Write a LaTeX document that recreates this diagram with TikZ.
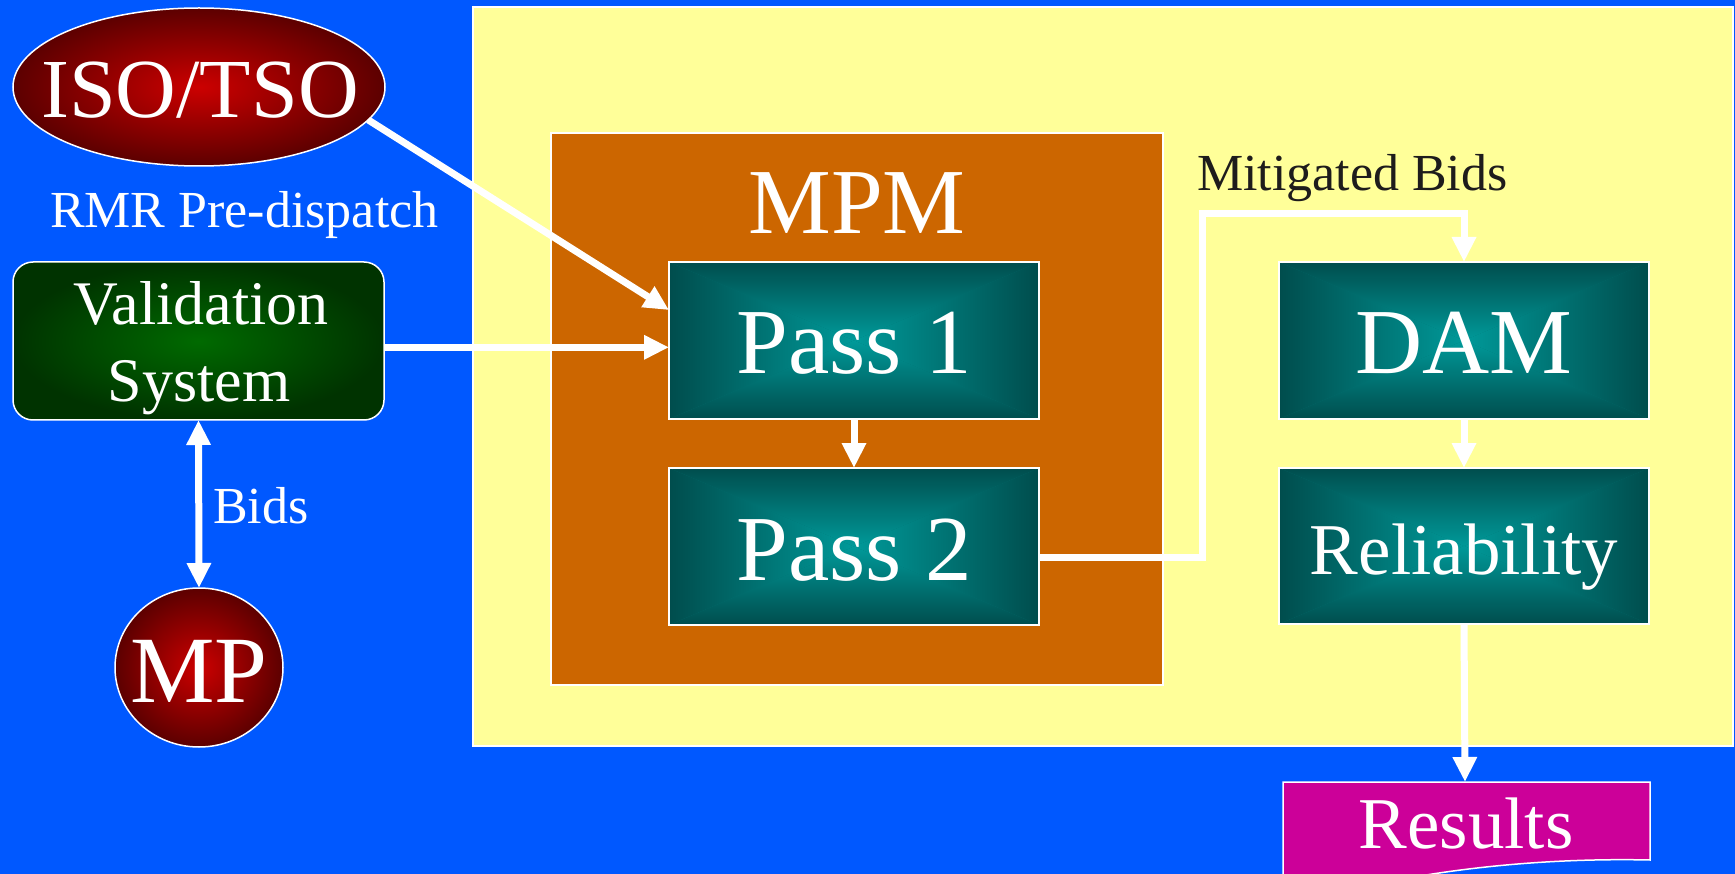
\documentclass[tikz,border=0pt]{standalone}
\usepackage{fontspec}
\setmainfont{Liberation Serif}
\usetikzlibrary{arrows.meta,shapes.geometric,calc}
\definecolor{bgblue}{RGB}{0,88,255}
\definecolor{yel}{RGB}{255,255,153}
\definecolor{org}{RGB}{204,102,0}
\definecolor{redc}{RGB}{204,0,0}
\definecolor{rede}{RGB}{92,0,0}
\definecolor{grnc}{RGB}{0,106,0}
\definecolor{grne}{RGB}{0,51,0}
\definecolor{tealc}{RGB}{0,153,153}
\definecolor{teale}{RGB}{0,77,77}
\definecolor{tealmid}{RGB}{0,115,115}
\definecolor{mag}{RGB}{204,0,153}
\definecolor{txtdark}{RGB}{30,28,28}
\newcommand\fISO{\fontsize{84pt}{84pt}\selectfont}
\newcommand\fMP{\fontsize{95pt}{95pt}\selectfont}
\newcommand\fBig{\fontsize{93pt}{93pt}\selectfont}
\newcommand\fMid{\fontsize{73pt}{73pt}\selectfont}
\newcommand\fVal{\fontsize{62pt}{77pt}\selectfont}
\newcommand\fSmall{\fontsize{52pt}{52pt}\selectfont}
\newcommand\tealshade[4]{%
  \pgfmathsetmacro\tsx{(#1+#3)/2}%
  \pgfmathsetmacro\tsy{(#2+#4)/2}%
  \fill[tealmid] (#1,#2) rectangle (#3,#4);
  \shade[left color=teale,right color=tealc] (#1,#2) -- (\tsx,\tsy) -- (#1,#4) -- cycle;
  \shade[left color=tealc,right color=teale] (#3,#2) -- (\tsx,\tsy) -- (#3,#4) -- cycle;
  \shade[top color=teale,bottom color=tealc] (#1,#2) -- (\tsx,\tsy) -- (#3,#2) -- cycle;
  \shade[top color=tealc,bottom color=teale] (#1,#4) -- (\tsx,\tsy) -- (#3,#4) -- cycle;
}
\begin{document}
\begin{tikzpicture}[x=1pt,y=-1pt,
  every node/.style={inner sep=0pt, outer sep=0pt},
  tip/.tip={Triangle[length=25pt,width=23pt]},
  arr/.style={draw=white, line width=7pt, -tip},
  arrboth/.style={draw=white, line width=7pt, tip-tip},
  redball/.style={ellipse, draw=white, line width=1.5pt, shading=radial, inner color=redc, outer color=rede},
  tealbox/.style={rectangle, draw=white, line width=1.5pt, minimum width=370pt, text=white, text depth=0pt},
  wtext/.style={text=white, anchor=base},
]
\useasboundingbox (0,0) rectangle (1735,874);
\clip (0,0) rectangle (1735,874);
\fill[bgblue] (0,0) rectangle (1735,874);

% containers
\filldraw[fill=yel, draw=white, line width=1.5pt] (473,7) rectangle (1733,746);
\filldraw[fill=org, draw=white, line width=1.5pt] (551,133) rectangle (1163,685);
\node[text=white, font=\fBig, text height=62pt, text depth=0pt] (mpmtxt) at (857,203) {MPM};

% left side
\node[redball, minimum width=372pt, minimum height=158pt] (iso) at (199,87) {};
\node[wtext, font=\fISO] (isotxt) at (200,118) {ISO/TSO};
\node[wtext, font=\fSmall, anchor=base west] (rmr) at (50,228) {RMR Pre-dispatch};
\node[rectangle, rounded corners=20pt, draw=white, line width=1.5pt, shading=radial, inner color=grnc, outer color=grne, minimum width=371pt, minimum height=158pt] (val) at (198.5,341) {};
\node[wtext, font=\fVal] (valtxt1) at (201,325) {Validation};
\node[wtext, font=\fVal] (valtxt2) at (199,402) {System};
\node[redball, minimum width=168pt, minimum height=159pt] (mp) at (199,667.5) {};
\node[wtext, font=\fMP] (mptxt) at (199,702) {MP};
\node[wtext, font=\fSmall, anchor=base west] (bids) at (213,523) {Bids};

% teal boxes
\tealshade{669}{262}{1039}{419}
\tealshade{669}{468}{1039}{625}
\tealshade{1279}{262}{1649}{419}
\tealshade{1279}{468}{1649}{624}
\node[tealbox, minimum height=157pt, font=\fBig, text height=67pt] (p1) at (854,340.5) {Pass 1};
\node[tealbox, minimum height=157pt, font=\fBig, text height=67pt] (p2) at (854,546.5) {Pass 2};
\node[tealbox, minimum height=157pt, font=\fBig, text height=67pt] (dam) at (1464,340.5) {DAM};
\node[tealbox, minimum height=156pt, font=\fMid, text height=56pt] (rel) at (1464,546) {Reliability};

\node[font=\fSmall, text=txtdark, anchor=base west] (mit) at (1197,191) {Mitigated Bids};

% results
\filldraw[fill=mag, draw=white, line width=1.5pt] (1283,782) -- (1650,782) -- (1650,860)
  .. controls (1560,858) and (1480,866) .. (1420,876)
  .. controls (1380,882) and (1330,886) .. (1283,886) -- cycle;
\coordinate (restop) at (1465,782);
\node[wtext, font=\fMid] (restxt) at (1466,848) {Results};

% connectors
\draw[arr] (iso.-11) -- ($(p1.north west)!0.306!(p1.south west)$);
\draw[arr] ($(val.north east)!0.54!(val.south east)$) coordinate (v1) -- (v1 -| p1.west);
\draw[arrboth] (val.south) -- (mp.north);
\draw[arr] (p1.south) -- (p2.north);
\coordinate (bend) at (1202.5,214);
\draw[arr, line join=miter] ($(p2.north east)!0.573!(p2.south east)$) -| (bend) -| (dam.north);
\draw[arr] (dam.south) -- (rel.north);
\draw[arr] (rel.south) -- (restop);
\end{tikzpicture}
\end{document}
